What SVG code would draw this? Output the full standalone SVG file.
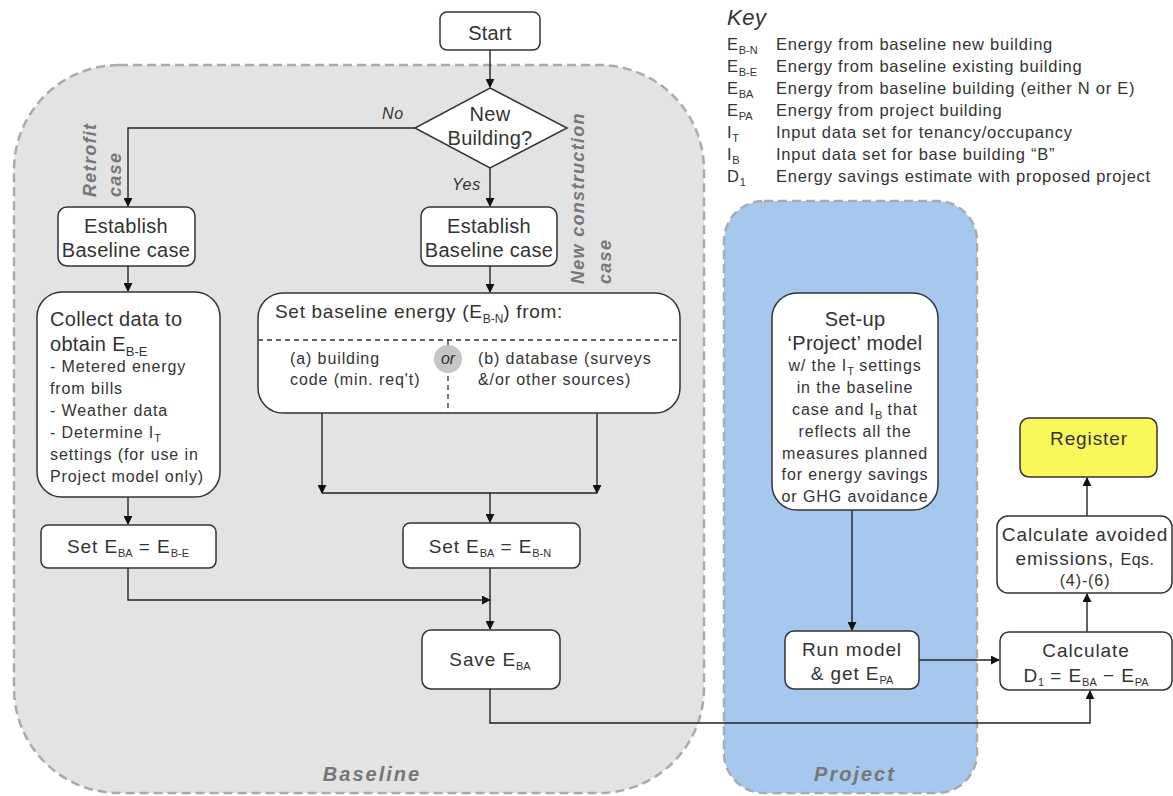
<svg xmlns="http://www.w3.org/2000/svg" width="1173" height="796" viewBox="0 0 1173 796">
<defs>
<marker id="ah" viewBox="0 0 10 10" refX="9" refY="5" markerWidth="9" markerHeight="9" markerUnits="userSpaceOnUse" orient="auto">
<path d="M0,0 L10,5 L0,10 z" fill="#111"/>
</marker>
<style>
text{font-family:"Liberation Sans",Arial,sans-serif;fill:#333;}
.box{fill:#fff;stroke:#333;stroke-width:1.5;}
.t19{font-size:20px;letter-spacing:0.3px;}
.t18{font-size:19px;letter-spacing:0.9px;}
.t15{font-size:16px;letter-spacing:0.9px;}
.c{text-anchor:middle;}
.lbl{font-size:20px;font-weight:bold;font-style:italic;fill:#777;letter-spacing:2px;}
.side{font-size:18px;font-weight:bold;font-style:italic;fill:#777;letter-spacing:1.3px;}
.it{font-size:16px;font-style:italic;letter-spacing:0.8px;}
.ln{fill:none;stroke:#222;stroke-width:1.4;}
.arr{fill:none;stroke:#222;stroke-width:1.4;marker-end:url(#ah);}
.s{font-size:11px;letter-spacing:0;}
.key{font-size:16.5px;letter-spacing:0.75px;}
</style>
</defs>

<g id="baseline-region">
<rect x="14" y="65" width="690" height="728" rx="105" ry="105" fill="#e3e3e3" stroke="#aaa" stroke-width="2.5" stroke-dasharray="9,5"/>
<text class="lbl c" x="372" y="781">Baseline</text>
</g>
<g id="project-region">
<rect x="724" y="201" width="253" height="592" rx="40" ry="40" fill="#a7c8ee" stroke="#aaa" stroke-width="2.5" stroke-dasharray="9,5"/>
<text class="lbl c" x="855" y="781">Project</text>
</g>

<g id="key">
<text x="727" y="25" style="font-size:22px;font-style:italic;letter-spacing:0.5px">Key</text>
<text class="key" x="727" y="50">E<tspan class="s" dy="4">B-N</tspan><tspan x="776" dy="-4">Energy from baseline new building</tspan></text>
<text class="key" x="727" y="72">E<tspan class="s" dy="4">B-E</tspan><tspan x="776" dy="-4">Energy from baseline existing building</tspan></text>
<text class="key" x="727" y="94">E<tspan class="s" dy="4">BA</tspan><tspan x="776" dy="-4">Energy from baseline building (either N or E)</tspan></text>
<text class="key" x="727" y="116">E<tspan class="s" dy="4">PA</tspan><tspan x="776" dy="-4">Energy from project building</tspan></text>
<text class="key" x="727" y="138">I<tspan class="s" dy="4">T</tspan><tspan x="776" dy="-4">Input data set for tenancy/occupancy</tspan></text>
<text class="key" x="727" y="160">I<tspan class="s" dy="4">B</tspan><tspan x="776" dy="-4">Input data set for base building “B”</tspan></text>
<text class="key" x="727" y="182">D<tspan class="s" dy="4">1</tspan><tspan x="776" dy="-4">Energy savings estimate with proposed project</tspan></text>
</g>

<g id="connectors">
<path class="arr" d="M490,50 V87"/>
<path class="arr" d="M415,128 H128 V206"/>
<path class="arr" d="M490,168 V206"/>
<path class="arr" d="M128,266 V291"/>
<path class="arr" d="M490,266 V292"/>
<path class="arr" d="M128,497 V524"/>
<path class="arr" d="M322,413 V493"/>
<path class="arr" d="M597,413 V493"/>
<path class="ln" d="M322,493 H597"/>
<path class="arr" d="M490,493 V522"/>
<path class="arr" d="M128,568 V600 H490"/>
<path class="arr" d="M490,568 V629"/>
<path class="arr" d="M490,689 V723 H1090 V691"/>
<path class="arr" d="M852,510 V630"/>
<path class="arr" d="M919,660 H999"/>
<path class="arr" d="M1087,632 V594"/>
<path class="arr" d="M1087,516 V478"/>
<text class="it" x="382" y="119">No</text>
<text class="it" x="452" y="190">Yes</text>
<text class="side" transform="translate(96,197) rotate(-90)">Retrofit</text>
<text class="side" transform="translate(121,197) rotate(-90)">case</text>
<text class="side" transform="translate(584,284) rotate(-90)">New construction</text>
<text class="side" transform="translate(611,284) rotate(-90)">case</text>
</g>

<g id="start">
<rect class="box" x="440" y="12" width="100" height="38" rx="7"/>
<text class="t19 c" x="490" y="40">Start</text>
</g>

<g id="decision">
<polygon class="box" points="490,88 567,128 490,168 415,128"/>
<text class="t19 c" x="490" y="121">New</text>
<text class="t19 c" x="490" y="145">Building?</text>
</g>

<g id="establish-retrofit">
<rect class="box" x="58" y="207" width="137" height="59" rx="9"/>
<text class="t19 c" x="126" y="233">Establish</text>
<text class="t19 c" x="126" y="257">Baseline case</text>
</g>

<g id="establish-new">
<rect class="box" x="421" y="207" width="136" height="59" rx="9"/>
<text class="t19 c" x="489" y="233">Establish</text>
<text class="t19 c" x="489" y="257">Baseline case</text>
</g>

<g id="collect">
<rect class="box" x="37" y="292" width="183" height="205" rx="25"/>
<text class="t19" x="50" y="326">Collect data to</text>
<text class="t19" x="50" y="351">obtain E<tspan class="s" style="font-size:13px" dy="5">B-E</tspan></text>
<text class="t15" x="50" y="372">- Metered energy</text>
<text class="t15" x="50" y="394">from bills</text>
<text class="t15" x="50" y="416">- Weather data</text>
<text class="t15" x="50" y="438">- Determine I<tspan class="s" dy="4">T</tspan></text>
<text class="t15" x="50" y="460">settings (for use in</text>
<text class="t15" x="50" y="482">Project model only)</text>
</g>

<g id="set-baseline">
<rect class="box" x="258" y="293" width="422" height="120" rx="25"/>
<text x="275" y="318" style="font-size:19px;letter-spacing:0.7px">Set baseline energy (E<tspan class="s" style="font-size:12px" dy="5">B-N</tspan><tspan dy="-5">) from:</tspan></text>
<path d="M258,340 H680 M448,340 V413" fill="none" stroke="#333" stroke-width="1.3" stroke-dasharray="5,4"/>
<circle cx="448" cy="359" r="14" fill="#c6c6c6"/>
<text class="c" x="448" y="364" style="font-size:16px;font-style:italic">or</text>
<text class="t15" x="290" y="364">(a) building</text>
<text class="t15" x="290" y="385">code (min. req't)</text>
<text class="t15" x="478" y="364">(b) database (surveys</text>
<text class="t15" x="478" y="385">&amp;/or other sources)</text>
</g>

<g id="set-eba-e">
<rect class="box" x="41" y="525" width="175" height="43" rx="7"/>
<text class="t18 c" x="128" y="553">Set E<tspan class="s" dy="4">BA</tspan><tspan dy="-4"> = E</tspan><tspan class="s" dy="4">B-E</tspan></text>
</g>

<g id="set-eba-n">
<rect class="box" x="403" y="523" width="177" height="45" rx="7"/>
<text class="t18 c" x="490" y="553">Set E<tspan class="s" dy="4">BA</tspan><tspan dy="-4"> = E</tspan><tspan class="s" dy="4">B-N</tspan></text>
</g>

<g id="save">
<rect class="box" x="422" y="630" width="138" height="59" rx="9"/>
<text class="t18 c" x="490" y="666">Save E<tspan class="s" dy="4">BA</tspan></text>
</g>

<g id="setup-project">
<rect class="box" x="772" y="293" width="166" height="217" rx="25"/>
<text class="t19 c" x="855" y="326">Set-up</text>
<text class="t19 c" x="855" y="350">‘Project’ model</text>
<text class="t15 c" x="855" y="371">w/ the I<tspan class="s" dy="4">T</tspan><tspan dy="-4"> settings</tspan></text>
<text class="t15 c" x="855" y="393">in the baseline</text>
<text class="t15 c" x="855" y="415">case and I<tspan class="s" dy="4">B</tspan><tspan dy="-4"> that</tspan></text>
<text class="t15 c" x="855" y="437">reflects all the</text>
<text class="t15 c" x="855" y="459">measures planned</text>
<text class="t15 c" x="855" y="480">for energy savings</text>
<text class="t15 c" x="855" y="502">or GHG avoidance</text>
</g>

<g id="run-model">
<rect class="box" x="785" y="631" width="134" height="58" rx="9"/>
<text class="t18 c" x="852" y="656">Run model</text>
<text class="t18 c" x="852" y="680">&amp; get E<tspan class="s" dy="4">PA</tspan></text>
</g>

<g id="calculate">
<rect class="box" x="1000" y="632" width="172" height="58" rx="9"/>
<text class="t18 c" x="1086" y="657">Calculate</text>
<text class="t18 c" x="1086" y="682">D<tspan class="s" dy="4">1</tspan><tspan dy="-4"> = E</tspan><tspan class="s" dy="4">BA</tspan><tspan dy="-4"> − E</tspan><tspan class="s" dy="4">PA</tspan></text>
</g>

<g id="avoided">
<rect class="box" x="997" y="516" width="175" height="77" rx="11"/>
<text class="t18 c" x="1085" y="541">Calculate avoided</text>
<text class="t18 c" x="1085" y="565">emissions, <tspan style="font-size:16px;letter-spacing:0.5px">Eqs.</tspan></text>
<text class="t15 c" x="1085" y="586">(4)-(6)</text>
</g>

<g id="register">
<rect x="1020" y="418" width="137" height="59" rx="9" fill="#f8f85a" stroke="#333" stroke-width="1.5"/>
<text class="t18 c" x="1089" y="445">Register</text>
</g>
</svg>
